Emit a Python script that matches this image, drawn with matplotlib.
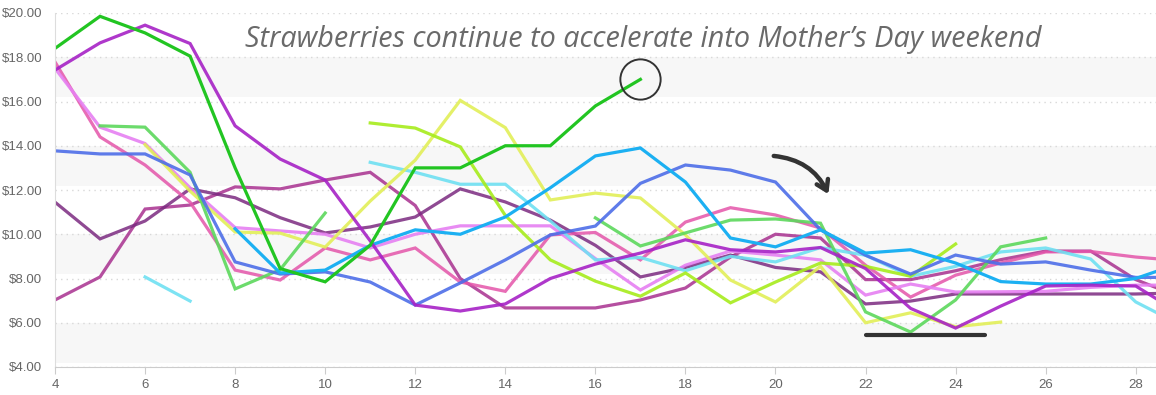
import matplotlib
matplotlib.use("Agg")
import matplotlib.pyplot as plt
import numpy as np

# days of the month (29 only continues lines past the right edge)
days = list(range(4, 30))
N = None

strawberries = [18.4, 19.85, 19.1, 18.05, 13.0, 8.45, 7.85, 9.5, 13.0, 13.0, 14.0, 14.0, 15.8, 17.0,
                N, N, N, N, N, N, N, N, N, N, N, N]
purple = [17.42, 18.65, 19.45, 18.62, 14.9, 13.4, 12.45, 9.7, 6.8, 6.53, 6.85, 8.0, 8.65, 9.15,
          9.75, 9.3, 9.2, 9.4, 8.45, 6.65, 5.76, 6.75, 7.66, 7.7, 7.66, 6.4]
lime = [N, N, N, N, N, N, N, 15.03, 14.8, 13.95, 10.85, 8.84, 7.88, 7.2,
        8.25, 6.9, 7.84, 8.7, 8.55, 8.1, 9.56, N, N, N, N, N]
yellow = [N, N, 14.05, 11.95, 10.1, 10.05, 9.42, 11.5, 13.35, 16.05, 14.82, 11.55, 11.86, 11.64,
          9.97, 7.93, 6.94, 8.55, 6.0, 6.45, 5.82, 6.03, N, N, N, N]
blue = [13.77, 13.63, 13.63, 12.68, 8.75, 8.2, 8.3, 7.84, 6.8, 7.8, 8.84, 9.97, 10.37, 12.3,
        13.13, 12.9, 12.36, 10.2, 9.05, 8.2, 9.06, 8.65, 8.75, 8.38, 8.05, 8.05]
sky = [N, N, N, N, 10.25, 8.25, 8.38, 9.5, 10.2, 10.0, 10.78, 12.1, 13.54, 13.9,
       12.36, 9.83, 9.43, 10.2, 9.15, 9.3, 8.7, 7.86, 7.75, 7.75, 8.0, 8.7]
light_cyan = [N, N, 8.07, 6.98, N, N, N, 13.25, 12.8, 12.26, 12.26, 10.6, 8.84, 8.95,
              8.35, 9.0, 8.75, 9.4, 9.05, 8.1, 8.55, 9.2, 9.38, 8.88, 6.94, 5.9]
green = [N, 14.9, 14.84, 12.8, 7.53, 8.4, 10.96, N, N, N, N, N, 10.74, 9.47,
         10.06, 10.64, 10.69, 10.5, 6.49, 5.58, 7.03, 9.43, 9.83, N, N, N]
pink = [17.79, 14.4, 13.13, 11.45, 8.38, 7.93, 9.38, 8.84, 9.38, 7.84, 7.42, 9.97, 10.08, 8.84,
        10.55, 11.2, 10.87, 10.28, 8.6, 7.16, 8.15, 8.7, 9.2, 9.22, 8.97, 8.8]
orchid = [17.5, 14.84, 14.1, 12.1, 10.3, 10.15, 10.0, 9.38, 10.0, 10.38, 10.38, 10.38, 8.9, 7.48,
          8.6, 9.24, 9.06, 8.84, 7.25, 7.75, 7.39, 7.4, 7.42, 7.6, 7.7, 7.7]
magenta = [7.03, 8.07, 11.14, 11.32, 12.14, 12.05, 12.45, 12.8, 11.3, 8.0, 6.67, 6.67, 6.67, 7.03,
           7.57, 8.97, 10.0, 9.83, 7.95, 7.95, 8.35, 8.85, 9.24, 9.24, 7.95, 7.15]
plum = [11.45, 9.79, 10.6, 12.05, 11.65, 10.75, 10.06, 10.33, 10.78, 12.05, 11.46, 10.64, 9.5, 8.07,
        8.5, 9.06, 8.5, 8.3, 6.85, 6.98, 7.3, 7.3, 7.3, 7.3, 7.3, 7.35]

series = [
    (magenta, "#a8308f", 0.85),
    (plum, "#7b2a80", 0.85),
    (pink, "#e455aa", 0.85),
    (orchid, "#e680f2", 0.9),
    (light_cyan, "#6fe0f2", 0.9),
    (yellow, "#e2ef58", 0.9),
    (lime, "#a6ec1c", 0.9),
    (green, "#5cd85c", 0.9),
    (blue, "#4d6ee8", 0.9),
    (sky, "#1cb0f2", 1.0),
    (purple, "#a622c6", 0.9),
    (strawberries, "#22c522", 1.0),
]

plt.rcParams['font.family'] = ['Liberation Sans', 'DejaVu Sans']
fig = plt.figure(figsize=(11.56, 3.95), dpi=100)
ax = fig.add_axes([55 / 1156, 28 / 395, 1 - 55 / 1156, (367 - 13) / 395])

# alternating bands and dotted grid
for lo, hi in [(16.2, 18), (12.2, 14), (8.2, 10), (4.2, 6)]:
    ax.axhspan(lo, hi, color="#f7f7f7", lw=0, zorder=0)
for v in range(4, 21, 2):
    ax.axhline(v, color="#d8d8d8", lw=1, ls=(0, (1, 3)), zorder=0.5)

x = np.array(days, dtype=float)
for vals, col, a in series:
    y = np.array([np.nan if v is None else v for v in vals])
    ax.plot(x, y, color=col, alpha=a, lw=2.3, solid_joinstyle="miter", zorder=2)

ax.set_xlim(4, 28.45)
ax.set_ylim(4, 20)
ax.set_xticks(range(4, 29, 2))
ax.set_yticks(range(4, 21, 2))
ax.set_yticklabels([f"${v}.00" for v in range(4, 21, 2)])
ax.tick_params(axis="y", length=0, pad=9, labelsize=9.5, labelcolor="#666666")
ax.tick_params(axis="x", length=5, color="#cccccc", pad=4, labelsize=9.5, labelcolor="#666666")
for s in ["top", "right"]:
    ax.spines[s].set_visible(False)
ax.spines["left"].set_color("#dddddd")
ax.spines["bottom"].set_color("#cccccc")

# annotations
ax.plot([17], [17.0], marker="o", ms=29, mfc="none", mec="#333333", mew=1.4, zorder=4)
ax.plot([22, 24.65], [5.45, 5.45], color="#333333", lw=3, solid_capstyle="round", zorder=4)
ax.annotate("", xy=(21.2, 11.7), xytext=(19.9, 13.55),
            arrowprops=dict(arrowstyle="->,head_length=0.7,head_width=0.45", color="#333333",
                            lw=3.2, connectionstyle="arc3,rad=-0.3", capstyle="round"), zorder=4)

t = ax.text(8.22, 18.45, "Strawberries continue to accelerate into Mother\u2019s Day weekend",
            family="Open Sans", style="italic", fontsize=20, color="#6a6a6a",
            va="baseline")
fig.canvas.draw()
w = t.get_window_extent().width
t.set_fontsize(20 * 795 / w)

fig.savefig("out.png", dpi=100)
